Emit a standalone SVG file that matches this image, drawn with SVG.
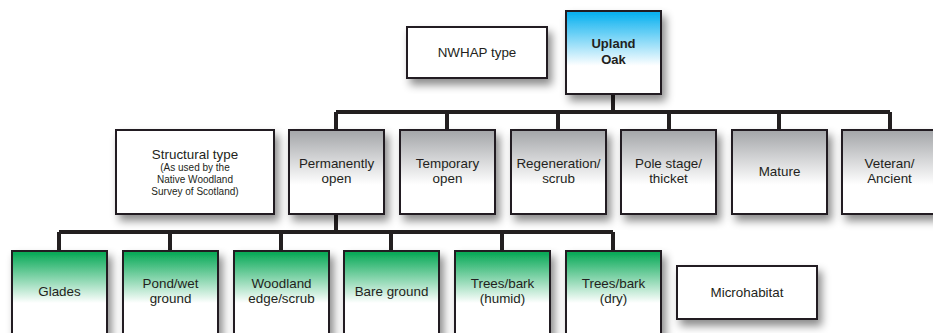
<svg xmlns="http://www.w3.org/2000/svg" width="933" height="333" viewBox="0 0 933 333">
<defs>
<linearGradient id="gGray" x1="0" y1="0" x2="0" y2="1">
<stop offset="0" stop-color="#a3a5a8"/>
<stop offset="0.65" stop-color="#ffffff"/>
<stop offset="1" stop-color="#ffffff"/>
</linearGradient>
<linearGradient id="gGreen" x1="0" y1="0" x2="0" y2="1">
<stop offset="0" stop-color="#00a651"/>
<stop offset="0.52" stop-color="#ffffff"/>
<stop offset="1" stop-color="#ffffff"/>
</linearGradient>
<linearGradient id="gBlue" x1="0" y1="0" x2="0" y2="1">
<stop offset="0" stop-color="#00aeef"/>
<stop offset="0.66" stop-color="#ffffff"/>
<stop offset="1" stop-color="#ffffff"/>
</linearGradient>
<filter id="sh" x="-20%" y="-20%" width="150%" height="150%">
<feDropShadow dx="4" dy="6" stdDeviation="4" flood-color="#000" flood-opacity="0.45"/>
</filter>
</defs>
<style>
.box{stroke:#231f20;stroke-width:2;filter:url(#sh)}
.w{fill:#ffffff}
.gray{fill:url(#gGray)}
.green{fill:url(#gGreen)}
.blue{fill:url(#gBlue)}
.t{font-family:"Liberation Sans",Arial,sans-serif;font-size:13.4px;fill:#231f20;text-anchor:middle}
.b{font-weight:bold;font-size:13px}
.s{font-size:10px}
.c{fill:none;stroke:#231f20;stroke-width:4}
</style>
<rect width="933" height="333" fill="#ffffff"/>
<g id="connectors">
<path class="c" d="M613 94V112M336 112H890M336 112V130M447 112V130M558 112V130M669 112V130M779 112V130M890 112V130"/>
<path class="c" d="M336 214V232M59 232H613M59 232V251M170 232V251M281 232V251M391 232V251M502 232V251M613 232V251"/>
</g>
<g id="nwhap"><rect class="box w" x="407" y="27" width="140" height="51"/><text class="t" x="477" y="57">NWHAP type</text></g>
<g id="upland-oak"><rect class="box blue" x="566" y="11" width="95" height="83"/><text class="t b" x="613.5" y="48">Upland</text><text class="t b" x="613.5" y="64">Oak</text></g>
<g id="structural"><rect class="box w" x="116" y="130" width="158" height="84"/><text class="t" x="195" y="159">Structural type</text><text class="t s" x="195" y="171">(As used by the</text><text class="t s" x="195" y="183">Native Woodland</text><text class="t s" x="195" y="195">Survey of Scotland)</text></g>
<g id="perm-open"><rect class="box gray" x="289" y="130" width="95" height="84"/><text class="t" x="336.5" y="168">Permanently</text><text class="t" x="336.5" y="183">open</text></g>
<g id="temp-open"><rect class="box gray" x="400" y="130" width="95" height="84"/><text class="t" x="447.5" y="168">Temporary</text><text class="t" x="447.5" y="183">open</text></g>
<g id="regeneration"><rect class="box gray" x="511" y="130" width="95" height="84"/><text class="t" x="558.5" y="168">Regeneration/</text><text class="t" x="558.5" y="183">scrub</text></g>
<g id="pole"><rect class="box gray" x="621" y="130" width="95" height="84"/><text class="t" x="668.5" y="168">Pole stage/</text><text class="t" x="668.5" y="183">thicket</text></g>
<g id="mature"><rect class="box gray" x="732" y="130" width="95" height="84"/><text class="t" x="779.5" y="176">Mature</text></g>
<g id="veteran"><rect class="box gray" x="842" y="130" width="95" height="84"/><text class="t" x="889.5" y="168">Veteran/</text><text class="t" x="889.5" y="183">Ancient</text></g>
<g id="glades"><rect class="box green" x="12" y="251" width="95" height="100"/><text class="t" x="59.5" y="296">Glades</text></g>
<g id="pond"><rect class="box green" x="123" y="251" width="95" height="100"/><text class="t" x="170.5" y="288">Pond/wet</text><text class="t" x="170.5" y="303">ground</text></g>
<g id="woodland-edge"><rect class="box green" x="234" y="251" width="95" height="100"/><text class="t" x="281.5" y="288">Woodland</text><text class="t" x="281.5" y="303">edge/scrub</text></g>
<g id="bare"><rect class="box green" x="344" y="251" width="95" height="100"/><text class="t" x="391.5" y="296">Bare ground</text></g>
<g id="trees-humid"><rect class="box green" x="455" y="251" width="95" height="100"/><text class="t" x="502.5" y="288">Trees/bark</text><text class="t" x="502.5" y="303">(humid)</text></g>
<g id="trees-dry"><rect class="box green" x="566" y="251" width="95" height="100"/><text class="t" x="613.5" y="288">Trees/bark</text><text class="t" x="613.5" y="303">(dry)</text></g>
<g id="microhabitat"><rect class="box w" x="677" y="266" width="140" height="53"/><text class="t" x="747" y="297">Microhabitat</text></g>
</svg>
